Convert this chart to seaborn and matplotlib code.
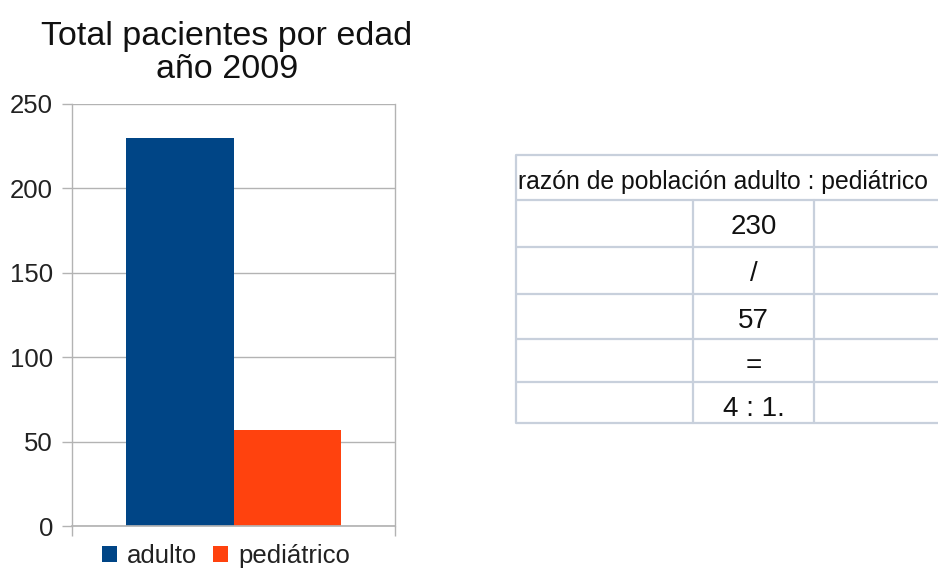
import matplotlib
matplotlib.use("Agg")
import matplotlib.pyplot as plt
import seaborn as sns
import pandas as pd
from matplotlib.patches import Patch

sns.set_theme(style="white")
plt.rcParams['font.family'] = ['Liberation Sans', 'DejaVu Sans']

# Data
categories = ["total"]
groups = ["adulto", "pediátrico"]
values = [230, 57]
colors = ["#004586", "#ff420e"]
yticks = [0, 50, 100, 150, 200, 250]
title = "Total pacientes por edad\naño 2009"

table_header = "razón de población adulto : pediátrico"
table_values = ["230", "/", "57", "=", "4 : 1."]

df = pd.DataFrame({"cat": categories * len(groups), "grupo": groups, "valor": values})

W, H = 938, 572
fig = plt.figure(figsize=(W / 100, H / 100), dpi=100)
fig.patch.set_facecolor("white")

ax = fig.add_axes([72 / W, 1 - 526 / H, (395 - 72) / W, (526 - 104) / H])
sns.barplot(data=df, x="cat", y="valor", hue="grupo", palette=colors,
            width=0.666, saturation=1, ax=ax, legend=False)
for p in ax.patches:
    p.set_edgecolor("none")
ax.set_xlim(-0.5, 0.5)
ax.set_ylim(0, 250)
ax.set_yticks(yticks)
ax.set_xticks([-0.5, 0.5])
ax.set_xticklabels(["", ""])
ax.set_xlabel("")
ax.set_ylabel("")
grid_c = "#b3b3b3"
ax.yaxis.grid(True, color=grid_c, linewidth=1)
ax.set_axisbelow(True)
for s in ["left", "right"]:
    ax.spines[s].set_visible(True)
    ax.spines[s].set_color(grid_c)
    ax.spines[s].set_linewidth(1)
ax.spines["top"].set_visible(False)
ax.spines["bottom"].set_color(grid_c)
ax.tick_params(axis="y", length=7.2, color=grid_c, width=1, labelsize=18.5,
               pad=6.5, labelcolor="#222222", left=True)
ax.tick_params(axis="x", length=7.2, color=grid_c, width=1, bottom=True, direction="out")
fig.text(227 / W, 1 - 78 / H, title, ha="center", va="baseline", fontsize=24.5,
         color="#111111", linespacing=1.1)

handles = [Patch(facecolor=c, edgecolor="none") for c in colors]
leg = fig.legend(handles, groups, loc="center", bbox_to_anchor=(226 / W, 1 - 556 / H),
                 ncol=2, frameon=False, fontsize=18.5, handlelength=0.6, handleheight=0.6,
                 handletextpad=0.4, columnspacing=0.6)
for t in leg.get_texts():
    t.set_color("#222222")

# Table
tl, tr, tt, tb = 516, 938, 155, 423
tax = fig.add_axes([tl / W, 1 - tb / H, (tr - tl) / W, (tb - tt) / H])
tax.set_xlim(tl, tr)
tax.set_ylim(tb, tt)
tax.axis("off")
line_c = "#c8d0dc"
row_edges = [155, 200, 247, 294, 339, 382, 423]
col_edges = [516, 693, 814]
lw = 1.6
for y in row_edges:
    tax.plot([tl, tr], [y, y], color=line_c, lw=lw, solid_capstyle="butt", clip_on=False)
tax.plot([516, 516], [155, 423], color=line_c, lw=lw, clip_on=False)
for x in col_edges[1:]:
    tax.plot([x, x], [200, 423], color=line_c, lw=lw, clip_on=False)

tax.text(518, 189, table_header, ha="left", va="baseline",
         fontsize=17.8, color="#111111", clip_on=False)
for i, v in enumerate(table_values):
    base = row_edges[i + 1] + 34
    tax.text((693 + 814) / 2, base, v, ha="center", va="baseline",
             fontsize=20, color="#111111")

fig.savefig("out.png", dpi=100)
